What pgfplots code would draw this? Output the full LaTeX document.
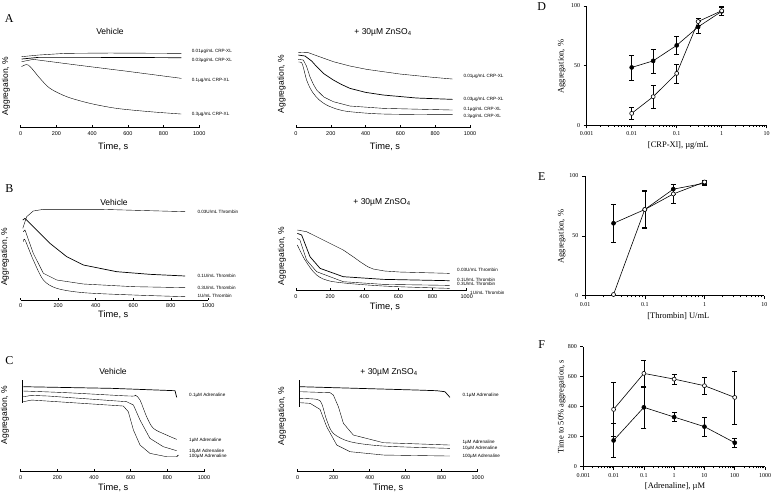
\documentclass[border=0pt]{standalone}
\usepackage{fontspec}
\setmainfont{Liberation Serif}
\setsansfont{Liberation Sans}
\usepackage{pgfplots}
\pgfplotsset{compat=1.18}

\pgfplotsset{
  trace/.style={
    scale only axis, anchor=south west, xmin=0, xmax=1000, ymin=0, ymax=300, height=100pt,
    axis x line*=bottom, axis y line*=left, x axis line style={-}, y axis line style={draw=none},
    ytick=\empty, xtick={0,200,...,1000}, tick align=inside, major tick length=2.5pt,
    tick label style={font=\sffamily\fontsize{5.5}{6}\selectfont},
    /pgf/number format/assume math mode=true, /pgf/number format/1000 sep={}, clip=false,
    axis line style={line width=0.6pt}, tick style={black, line width=0.5pt},
    cycle list={{black, line width=0.7pt, mark=none, smooth, tension=0.35}},
  },
  jump/.style={black, line width=0.7pt, mark=none},
  dose/.style={
    scale only axis, anchor=south west, ymin=0,
    axis x line*=bottom, axis y line*=left, x axis line style={-}, y axis line style={-},
    axis line style={line width=0.6pt}, tick style={black, line width=0.5pt},
    tick align=outside, major tick length=3pt, minor tick length=1.6pt,
    tick label style={font=\fontsize{6}{7}\selectfont},
    /pgf/number format/assume math mode=true, clip=false,
  },
  full/.style={black, line width=0.6pt, mark=*, mark size=2pt, mark options={fill=black},
    error bars/.cd, y dir=both, y explicit,
    error bar style={line width=0.5pt, black},
    error mark options={rotate=90, mark size=2.4pt, line width=0.5pt, black}},
  hollow/.style={black, line width=0.6pt, mark=*, mark size=2pt, mark options={fill=white},
    error bars/.cd, y dir=both, y explicit,
    error bar style={line width=0.5pt, black},
    error mark options={rotate=90, mark size=2.4pt, line width=0.5pt, black}},
}

\newcommand{\tl}[3]{\node[anchor=west, inner sep=0pt, font=\sffamily\fontsize{4.6}{5}\selectfont] at (#1pt,-#2pt) {#3};}
\newcommand{\ttl}[3]{\node[inner sep=0pt, font=\sffamily\fontsize{8.5}{9}\selectfont] at (#1pt,-#2pt) {#3};}
\newcommand{\yl}[3]{\node[inner sep=0pt, rotate=90, font=\sffamily\fontsize{8.5}{9}\selectfont] at (#1pt,-#2pt) {#3};}
\newcommand{\letter}[3]{\node[inner sep=0pt, font=\fontsize{12}{13}\selectfont] at (#1pt,-#2pt) {#3};}

\pgfplotstableread{
x y e
0.01 48.5 10.5
0.03 54 10
0.1 67 7.5
0.3 82.5 5
1 95.5 3.5
}\dfull
\pgfplotstableread{
x y e
0.01 10 5
0.03 24 9.5
0.1 43.5 8
0.3 87 3
1 96 3.5
}\dopen
\pgfplotstableread{
x y e
0.03 60.5 16
0.1 72 15
0.3 89 4.2
1 94 1.5
}\efull
\pgfplotstableread{
x y e
0.03 1 0
0.1 72 16
0.3 85 8
1 95 1.5
}\eopen
\pgfplotstableread{
x y e
0.01 175 115
0.1 396 138
1 331 30
10 267 65
100 160 33
}\ffull
\pgfplotstableread{
x y e
0.01 382 180
0.1 622 90
1 584 35
10 540 56
100 462 177
}\fopen

\begin{document}
\begin{tikzpicture}
\path[use as bounding box] (0,0) rectangle (774pt,-495pt);

% ---- A, vehicle
\begin{axis}[trace, at={(20.7pt,-127.7pt)}, width=178.6pt]
\addplot coordinates {(5,213)(100,218)(250,223)(500,224)(900,223)};
\addplot coordinates {(5,206)(100,211)(400,211)(900,210)};
\addplot coordinates {(5,198)(70,205)(300,189)(600,169)(900,148)};
\addplot coordinates {(5,183)(43,188)(108,148)(164,118)(258,93)(388,73)(537,58)(724,48)(900,41)};
\end{axis}
% ---- A, zinc
\begin{axis}[trace, at={(296pt,-127.7pt)}, width=174pt]
\addplot coordinates {(13,226)(71,225)(140,212)(215,198)(310,185)(406,175)(598,161)(789,151)(900,146)};
\addplot coordinates {(13,218)(52,215)(90,200)(119,183)(160,162)(215,143)(260,130)(310,118)(400,106)(502,98)(694,89)(900,85)};
\addplot coordinates {(13,205)(42,203)(60,185)(80,153)(100,130)(119,113)(160,92)(215,78)(310,65)(502,58)(900,53)};
\addplot coordinates {(13,197)(33,195)(45,175)(61,143)(80,120)(100,103)(130,85)(176,68)(240,55)(310,48)(502,41)(900,39)};
\end{axis}
% ---- B, vehicle
\begin{axis}[trace, at={(20.7pt,-300pt)}, width=187.6pt]
\addplot coordinates {(11,215)(32,250)(67,267)(121,272)(423,272)(876,265)};
\addplot coordinates {(11,240)(23,245)(67,220)(156,170)(245,130)(334,105)(511,85)(689,77)(876,72)};
\addplot coordinates {(14,205)(23,210)(67,140)(121,80)(192,60)(334,48)(600,40)(876,37)};
\addplot coordinates {(14,175)(23,180)(67,120)(121,60)(192,35)(334,22)(600,15)(876,10)};
\end{axis}
% ---- B, zinc
\begin{axis}[trace, at={(296pt,-290.7pt)}, width=170.7pt]
\addplot coordinates {(8,182)(62,177)(160,152)(277,122)(340,100)(375,87)(420,72)(453,65)(520,59)(609,56)(900,52)};
\addplot coordinates {(8,172)(33,167)(82,102)(141,67)(277,42)(512,34)(900,30)};
\addplot coordinates {(8,157)(23,152)(62,92)(121,57)(277,27)(512,19)(900,16)};
\addplot coordinates {(8,137)(53,92)(121,47)(219,27)(512,14)(900,7)};
\end{axis}
% ---- C, vehicle
\begin{axis}[trace, at={(20.7pt,-471.7pt)}, width=183.3pt]
\addplot[jump] coordinates {(9,275)(9,205)};
\addplot coordinates {(15,255)(500,250)(842,243)};
\addplot[jump] coordinates {(842,243)(851,223)};
\addplot coordinates {(15,242)(251,237)(596,227)(624,230)(651,215)(687,165)(724,130)(796,110)(851,97)};
\addplot coordinates {(15,225)(60,229)(150,227)(578,210)(615,200)(651,155)(705,100)(778,75)(851,63)};
\addplot coordinates {(15,210)(60,215)(560,197)(587,180)(615,125)(651,80)(705,55)(796,45)(851,45)};
\addplot[jump] coordinates {(851,45)(860,50)};
\end{axis}
% ---- C, zinc
\begin{axis}[trace, at={(297.7pt,-471.7pt)}, width=180pt]
\addplot[jump] coordinates {(7,275)(7,195)};
\addplot coordinates {(13,255)(661,245)(772,243)(818,240)(846,223)};
\addplot coordinates {(13,240)(180,237)(198,230)(226,195)(254,145)(309,110)(476,87)(846,80)};
\addplot coordinates {(13,220)(106,217)(133,205)(161,155)(198,115)(291,90)(476,77)(846,70)};
\addplot coordinates {(13,207)(69,205)(124,187)(161,135)(217,80)(291,60)(476,50)(846,47)};
\end{axis}

% ---- D
\begin{semilogxaxis}[dose, at={(586.7pt,-125.3pt)}, width=180pt, height=119.3pt,
  xmin=0.001, xmax=10, ymax=100, ytick={0,50,100},
  xtick={0.001,0.01,0.1,1,10}, xticklabels={0.001,0.01,0.1,1,10},
  minor xtick={0.002,0.003,0.004,0.005,0.006,0.007,0.008,0.009,0.02,0.03,0.04,0.05,0.06,0.07,0.08,0.09,0.2,0.3,0.4,0.5,0.6,0.7,0.8,0.9,2,3,4,5,6,7,8,9}]
\addplot[full] table[x=x, y=y, y error=e] {\dfull};
\addplot[hollow] table[x=x, y=y, y error=e] {\dopen};
\end{semilogxaxis}
% ---- E
\begin{semilogxaxis}[dose, at={(585pt,-295.7pt)}, width=179.3pt, height=119.7pt,
  xmin=0.01, xmax=10, ymax=100, ytick={0,50,100},
  xtick={0.01,0.1,1,10}, xticklabels={0.01,0.1,1,10},
  minor xtick={0.02,0.03,0.04,0.05,0.06,0.07,0.08,0.09,0.2,0.3,0.4,0.5,0.6,0.7,0.8,0.9,2,3,4,5,6,7,8,9}]
\addplot[full] table[x=x, y=y, y error=e] {\efull};
\addplot[hollow] table[x=x, y=y, y error=e] {\eopen};
\end{semilogxaxis}
% ---- F
\begin{semilogxaxis}[dose, at={(583.3pt,-466.7pt)}, width=181.7pt, height=120pt,
  xmin=0.001, xmax=1000, ymax=800, ytick={0,200,...,800},
  xtick={0.001,0.01,0.1,1,10,100,1000}, xticklabels={0.001,0.01,0.1,1,10,100,1000},
  minor xtick={0.002,0.003,0.004,0.005,0.006,0.007,0.008,0.009,0.02,0.03,0.04,0.05,0.06,0.07,0.08,0.09,0.2,0.3,0.4,0.5,0.6,0.7,0.8,0.9,2,3,4,5,6,7,8,9,20,30,40,50,60,70,80,90,200,300,400,500,600,700,800,900}]
\addplot[full] table[x=x, y=y, y error=e] {\ffull};
\addplot[hollow] table[x=x, y=y, y error=e] {\fopen};
\end{semilogxaxis}

% ---- texts of the trace panels
\letter{9.3}{19}{A}
\letter{9.3}{189}{B}
\letter{9.3}{361}{C}
\ttl{110}{31}{Vehicle}
\ttl{383}{32}{+ 30µM ZnSO\textsubscript{4}}
\ttl{114}{202}{Vehicle}
\ttl{382}{202}{+ 30µM ZnSO\textsubscript{4}}
\ttl{113}{371}{Vehicle}
\ttl{389}{372}{+ 30µM ZnSO\textsubscript{4}}
\yl{6}{86}{Aggregation, \%}
\yl{281.7}{84}{Aggregation, \%}
\yl{5}{256.7}{Aggregation, \%}
\yl{282}{256}{Aggregation, \%}
\yl{5}{415}{Aggregation, \%}
\yl{282}{416}{Aggregation, \%}
\ttl{113.3}{146.7}{\fontsize{9.3}{10}\selectfont Time, s}
\ttl{385}{146.7}{\fontsize{9.3}{10}\selectfont Time, s}
\ttl{113.3}{315}{\fontsize{9.3}{10}\selectfont Time, s}
\ttl{385}{306.7}{\fontsize{9.3}{10}\selectfont Time, s}
\ttl{113.3}{488}{\fontsize{9.3}{10}\selectfont Time, s}
\ttl{388.3}{488}{\fontsize{9.3}{10}\selectfont Time, s}

\tl{191.7}{51.7}{0.01µg/mL CRP-XL}
\tl{191.7}{60}{0.03µg/mL CRP-XL}
\tl{191.7}{80}{0.1µg/mL CRP-XL}
\tl{191.7}{114.3}{0.3µg/mL CRP-XL}
\tl{463.3}{76.3}{0.01µg/mL CRP-XL}
\tl{463.3}{99.3}{0.03µg/mL CRP-XL}
\tl{463.3}{109}{0.1µg/mL CRP-XL}
\tl{463.3}{116.3}{0.3µg/mL CRP-XL}
\tl{197.3}{211.7}{0.03U/mL Thrombin}
\tl{197.3}{276.3}{0.1U/mL Thrombin}
\tl{197.3}{287.7}{0.3U/mL Thrombin}
\tl{197.3}{296}{1U/mL Thrombin}
\tl{457}{270}{0.03U/mL Thrombin}
\tl{457}{280.3}{0.1U/mL Thrombin}
\tl{457}{284.3}{0.3U/mL Thrombin}
\tl{470}{292.5}{1U/mL Thrombin}
\tl{189}{395}{0.1µM Adrenaline}
\tl{189}{440}{1µM Adrenaline}
\tl{189}{451.7}{10µM Adrenaline}
\tl{189}{456}{100µM Adrenaline}
\tl{462.3}{395}{0.1µM Adrenaline}
\tl{462.3}{442.7}{1µM Adrenaline}
\tl{462.3}{448.3}{10µM Adrenaline}
\tl{462.3}{456}{100µM Adrenaline}

% ---- texts of the dose panels
\letter{541.7}{6.7}{D}
\letter{541.7}{176.7}{E}
\letter{541.7}{345}{F}
\node[inner sep=0pt, font=\fontsize{8.5}{9}\selectfont] at (678.3pt,-145.7pt) {[CRP-Xl], µg/mL};
\node[inner sep=0pt, font=\fontsize{8.5}{9}\selectfont] at (678.3pt,-315.7pt) {[Thrombin] U/mL};
\node[inner sep=0pt, font=\fontsize{8.5}{9}\selectfont] at (675pt,-486.7pt) {[Adrenaline], µM};
\node[inner sep=0pt, rotate=90, font=\fontsize{8.5}{9}\selectfont] at (561.7pt,-66.7pt) {Aggregation, \%};
\node[inner sep=0pt, rotate=90, font=\fontsize{8.5}{9}\selectfont] at (561.7pt,-236.7pt) {Aggregation, \%};
\node[inner sep=0pt, rotate=90, font=\fontsize{8.5}{9}\selectfont] at (561.7pt,-406.7pt) {Time to 50\% aggregation, s};
\end{tikzpicture}
\end{document}
